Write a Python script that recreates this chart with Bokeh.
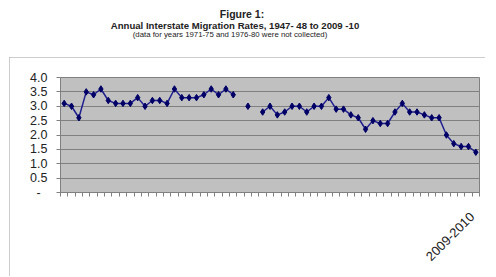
import numpy as np
from bokeh.plotting import figure
from bokeh.layouts import column
from bokeh.models import ColumnDataSource, Range1d, FixedTicker, Label
from bokeh.embed import file_html
from bokeh.resources import INLINE

FONT = "Liberation Sans"

# ---- data -------------------------------------------------------------
years_a = [f"{y}-{y+1}" for y in range(1947, 1971)]          # 1947-48 .. 1970-71
gap_cats = ["1971-1975", "1975-1976", "1976-1980"]
years_b = [f"{y}-{y+1}" for y in range(1980, 2010)]          # 1980-81 .. 2009-10
categories = years_a + gap_cats + years_b

rates_a = [3.1, 3.0, 2.6, 3.5, 3.4, 3.6, 3.2, 3.1, 3.1, 3.1, 3.3, 3.0,
           3.2, 3.2, 3.1, 3.6, 3.3, 3.3, 3.3, 3.4, 3.6, 3.4, 3.6, 3.4]
rates_gap = [None, 3.0, None]
rates_b = [2.8, 3.0, 2.7, 2.8, 3.0, 3.0, 2.8, 3.0, 3.0, 3.3,
           2.9, 2.9, 2.7, 2.6, 2.2, 2.5, 2.4, 2.4, 2.8, 3.1,
           2.8, 2.8, 2.7, 2.6, 2.6, 2.0, 1.7, 1.6, 1.6, 1.4]
rates = rates_a + rates_gap + rates_b

y_ticks = [0, 0.5, 1.0, 1.5, 2.0, 2.5, 3.0, 3.5, 4.0]

title_1 = "Figure 1:"
title_2 = "Annual Interstate Migration Rates, 1947- 48 to 2009 -10"
title_3 = "(data for years 1971-75 and 1976-80 were not collected)"
last_label = "2009-2010"

n = len(categories)
pos = list(range(1, n + 1))          # category slot of each entry
source = ColumnDataSource(dict(pos=pos, cat=categories,
                               rate=np.array(rates, dtype=float)))

# shared horizontal geometry of the two stacked figures
W = 476
BL, BR = 51, 6
FRAME_X0, FRAME_X1 = 68, 487         # page x of the frame edges

# ---- title strip ------------------------------------------------------
TH = 57
t = figure(width=W, height=TH, x_range=Range1d(FRAME_X0, FRAME_X1),
           y_range=Range1d(TH, 0), output_backend="svg",
           toolbar_location=None, x_axis_location=None,
           y_axis_location=None, min_border_left=BL, min_border_right=BR,
           min_border_top=0, min_border_bottom=0)
t.margin = (0, 0, 0, 9)
t.outline_line_color = None
t.xgrid.visible = False
t.ygrid.visible = False
t.add_layout(Label(x=249.5, y=13.5, text=title_1, text_align="center",
                   text_baseline="middle", text_font=FONT,
                   text_font_style="bold", text_font_size="10.5px",
                   text_color="#222222"))
t.add_layout(Label(x=242.5, y=24.5, text=title_2, text_align="center",
                   text_baseline="middle", text_font=FONT,
                   text_font_style="bold", text_font_size="9.6px",
                   text_color="#222222"))
t.add_layout(Label(x=237.5, y=33.5, text=title_3, text_align="center",
                   text_baseline="middle", text_font=FONT,
                   text_font_size="7.8px", text_color="#222222"))

# ---- chart ------------------------------------------------------------
H = 219
p = figure(width=W, height=H, x_range=Range1d(0.5, n + 0.5),
           y_range=Range1d(0, 4.0), output_backend="svg",
           toolbar_location=None,
           min_border_left=BL, min_border_right=BR,
           min_border_top=20, min_border_bottom=H - 135)
p.margin = (0, 0, 0, 9)
p.styles = {"outline": "2px solid #bdbdbd", "outline-offset": "-2px"}

p.background_fill_color = "#c0c0c0"
p.border_fill_color = "white"
p.outline_line_color = "#808080"
p.outline_line_width = 1

p.xgrid.grid_line_color = None
p.ygrid.ticker = FixedTicker(ticks=y_ticks)
p.ygrid.grid_line_color = "#808080"
p.ygrid.grid_line_width = 1

# y axis
p.yaxis.ticker = FixedTicker(ticks=y_ticks)
p.yaxis.major_label_overrides = {v: ("-\u2007" if v == 0 else f"{v:.1f}")
                                 for v in y_ticks}
p.yaxis.axis_line_color = "#808080"
p.yaxis.major_tick_line_color = "#808080"
p.yaxis.major_tick_in = 0
p.yaxis.major_tick_out = 4
p.yaxis.minor_tick_line_color = None
p.yaxis.major_label_standoff = 9
p.yaxis.major_label_text_font = FONT
p.yaxis.major_label_text_font_size = "12.5px"
p.yaxis.major_label_text_color = "#222222"

# x axis: ticks between categories, label at the last category's edge
label_at = n - 0.5
p.xaxis.ticker = FixedTicker(ticks=[label_at],
                             minor_ticks=[k + 0.5 for k in range(n + 1)])
p.xaxis.major_label_overrides = {label_at: last_label}
p.xaxis.axis_line_color = "#808080"
p.xaxis.major_tick_line_color = None
p.xaxis.major_tick_in = 0
p.xaxis.major_tick_out = 4
p.xaxis.minor_tick_line_color = "#808080"
p.xaxis.minor_tick_in = 0
p.xaxis.minor_tick_out = 4
p.xaxis.major_label_orientation = np.pi / 4
p.xaxis.major_label_standoff = 18
p.xaxis.major_label_text_font = FONT
p.xaxis.major_label_text_font_size = "13px"
p.xaxis.major_label_text_color = "#222222"

# series
p.line(x="pos", y="rate", source=source, line_color="#1f1f8f", line_width=1.5)
p.scatter(x="pos", y="rate", source=source, marker="diamond", size=6.5,
          fill_color="#000066", line_color="#000066")

layout = column(t, p)
open("out.html", "w").write(file_html(layout, INLINE))
